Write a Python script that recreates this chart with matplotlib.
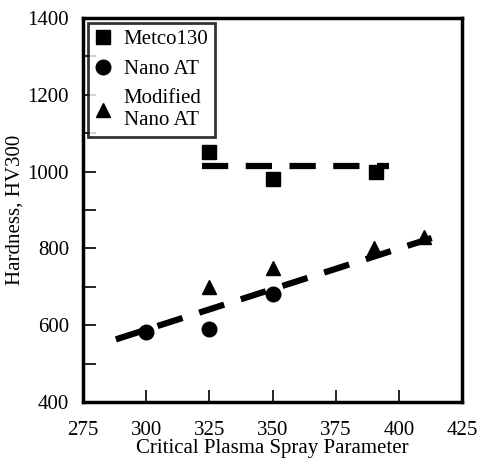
import matplotlib
matplotlib.use("Agg")
import matplotlib.pyplot as plt
from matplotlib.ticker import MultipleLocator

plt.rcParams['font.family'] = ['Liberation Serif', 'DejaVu Serif']

metco_x = [325, 350, 391]
metco_y = [1050, 980, 1000]
nano_x = [300, 325, 350]
nano_y = [583, 590, 680]
mod_x = [325, 350, 390, 410]
mod_y = [700, 750, 800, 830]
fit_top_x = [322, 396]
fit_top_y = [1015, 1015]
fit_bot_x = [288, 413]
fit_bot_y = [563, 827]

fig = plt.figure(figsize=(4.79, 4.62), dpi=100)
ax = fig.add_axes([0.1733, 0.1299, 0.7912, 0.8311])

ax.plot(fit_top_x, fit_top_y, color='black', lw=4.5, dashes=(4.2, 2.8), solid_capstyle='butt')
ax.plot(fit_bot_x, fit_bot_y, color='black', lw=4.5, dashes=(4.2, 2.8), solid_capstyle='butt')

ax.plot(metco_x, metco_y, 's', color='black', ms=10, label='Metco130')
ax.plot(nano_x, nano_y, 'o', color='black', ms=10.5, label='Nano AT')
ax.plot(mod_x, mod_y, '^', color='black', ms=10.5, label='Modified\nNano AT')

ax.set_xlim(275, 425)
ax.set_ylim(400, 1400)
ax.set_xticks([275, 300, 325, 350, 375, 400, 425])
ax.yaxis.set_major_locator(MultipleLocator(200))
ax.yaxis.set_minor_locator(MultipleLocator(100))
ax.tick_params(axis='x', direction='in', length=9, width=1.2, labelsize=15, pad=14)
ax.tick_params(axis='y', direction='in', length=9, width=1.2, labelsize=15, pad=10)
ax.tick_params(which='minor', direction='in', length=9, width=1.2)
for s in ax.spines.values():
    s.set_linewidth(2.5)

ax.set_xlabel('Critical Plasma Spray Parameter', fontsize=15, labelpad=-1)
ax.set_ylabel('Hardness, HV300', fontsize=15, labelpad=2)

leg = ax.legend(loc='upper left', fontsize=15, frameon=True, fancybox=False,
                edgecolor='black', handlelength=0.8, handletextpad=0.6,
                borderaxespad=0.25, labelspacing=0.5, borderpad=0.3)
leg.get_frame().set_linewidth(2)

fig.savefig('out.png', dpi=100)
